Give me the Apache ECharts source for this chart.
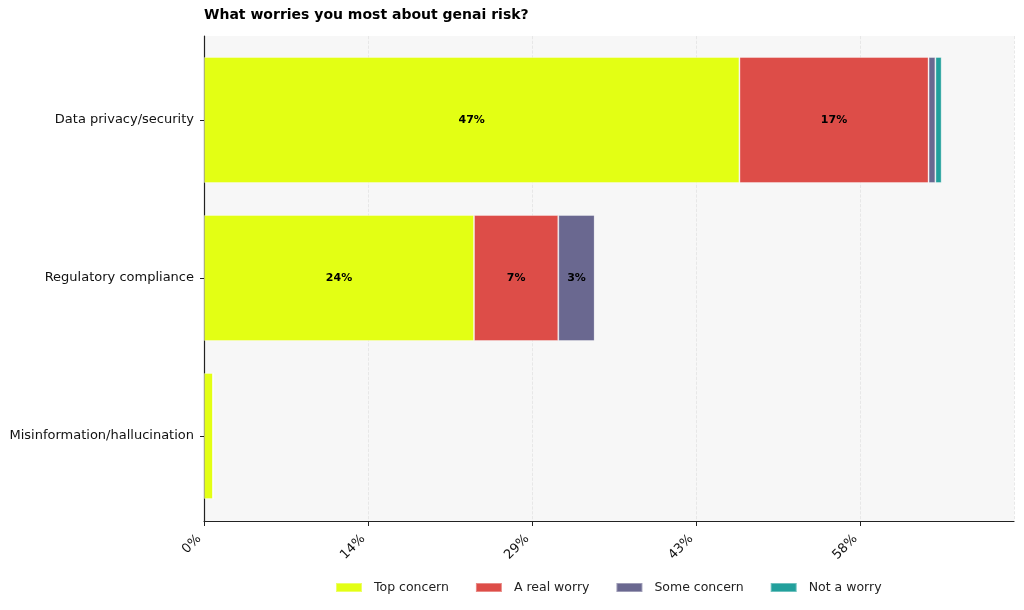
<!DOCTYPE html>
<html>
<head>
<meta charset="utf-8">
<script src="https://cdn.jsdelivr.net/npm/echarts@6/dist/echarts.min.js"></script>
<style>
  html, body { margin: 0; padding: 0; background: #fff; }
  #chart { width: 1024px; height: 610px; }
</style>
</head>
<body>
<div id="chart"></div>
<script>
// categories top to bottom
const categories = ['Data privacy/security', 'Regulatory compliance', 'Misinformation/hallucination'];
const topConcern = [47.0, 23.7, 0.8];
const realWorry = [16.6, 7.4, 0];
const someConcern = [0.6, 3.2, 0];
const notWorry = [0.55, 0, 0];
const seriesNames = ['Top concern', 'A real worry', 'Some concern', 'Not a worry'];
const colors = ['#e3ff14', '#dd4d48', '#6a6890', '#22a09c'];

const xMax = 71.1;
const xStep = 14.4;
const font = 'DejaVu Sans';

const chart = echarts.init(document.getElementById('chart'));

function makeSeries(name, data, color) {
  return {
    name: name,
    type: 'bar',
    stack: 'total',
    xAxisIndex: 1,
    yAxisIndex: 1,
    data: data,
    barWidth: 126,
    itemStyle: { color: color, borderColor: 'rgba(255,255,255,0.35)', borderWidth: 1 },
    label: {
      show: true,
      position: 'inside',
      color: '#000',
      fontWeight: 'bold',
      fontSize: 11,
      fontFamily: font,
      formatter: p => (p.value >= 2 ? Math.round(p.value) + '%' : '')
    },
    emphasis: { disabled: true }
  };
}

let option = {
  animation: false,
  backgroundColor: '#fff',
  title: {
    text: 'What worries you most about genai risk?',
    left: 199,
    top: 3,
    textStyle: { fontFamily: font, fontSize: 14, fontWeight: 'bold', color: '#000' }
  },
  legend: {
    bottom: 11,
    left: 330,
    itemWidth: 26,
    itemHeight: 9,
    itemGap: 26,
    icon: 'rect',
    textStyle: { fontFamily: font, fontSize: 12.5, color: '#222', padding: [0, 0, 0, 7] },
    data: seriesNames
  },
  grid: [
    // frame: background, x axis, left spine
    { left: 204, right: 10, top: 36, bottom: 89, show: true, backgroundColor: '#f7f7f7', borderWidth: 0 },
    // bars: bands of 158px centred like the reference
    { left: 204, right: 10, top: 41, height: 474 }
  ],
  xAxis: [
    {
      type: 'value',
      gridIndex: 0,
      min: 0,
      max: xMax,
      interval: xStep,
      axisLine: { show: true, lineStyle: { color: '#222', width: 1.2 } },
      axisTick: { show: true, length: 5, lineStyle: { color: '#222' } },
      axisLabel: {
        rotate: 45,
        fontFamily: font,
        fontSize: 13,
        color: '#111',
        margin: 11,
        padding: [0, 7, 0, 0],
        showMaxLabel: false,
        formatter: v => Math.round(v) + '%'
      },
      splitLine: { show: true, lineStyle: { color: '#e2e2e2', type: 'dashed', width: 0.8 } }
    },
    {
      type: 'value',
      gridIndex: 1,
      min: 0,
      max: xMax,
      show: false
    }
  ],
  yAxis: [
    {
      type: 'category',
      gridIndex: 0,
      data: categories,
      axisLine: { show: true, lineStyle: { color: '#222', width: 1.2 } },
      axisTick: { show: false },
      axisLabel: { show: false },
      splitLine: { show: false }
    },
    {
      type: 'category',
      gridIndex: 1,
      inverse: true,
      data: categories,
      axisLine: { show: false },
      axisTick: { show: true, alignWithLabel: true, length: 4, lineStyle: { color: '#222' } },
      axisLabel: { fontFamily: font, fontSize: 13, color: '#111', margin: 10 },
      splitLine: { show: false }
    }
  ],
  series: [
    makeSeries(seriesNames[0], topConcern, colors[0]),
    makeSeries(seriesNames[1], realWorry, colors[1]),
    makeSeries(seriesNames[2], someConcern, colors[2]),
    makeSeries(seriesNames[3], notWorry, colors[3])
  ]
};
chart.setOption(option);
</script>
</body>
</html>
